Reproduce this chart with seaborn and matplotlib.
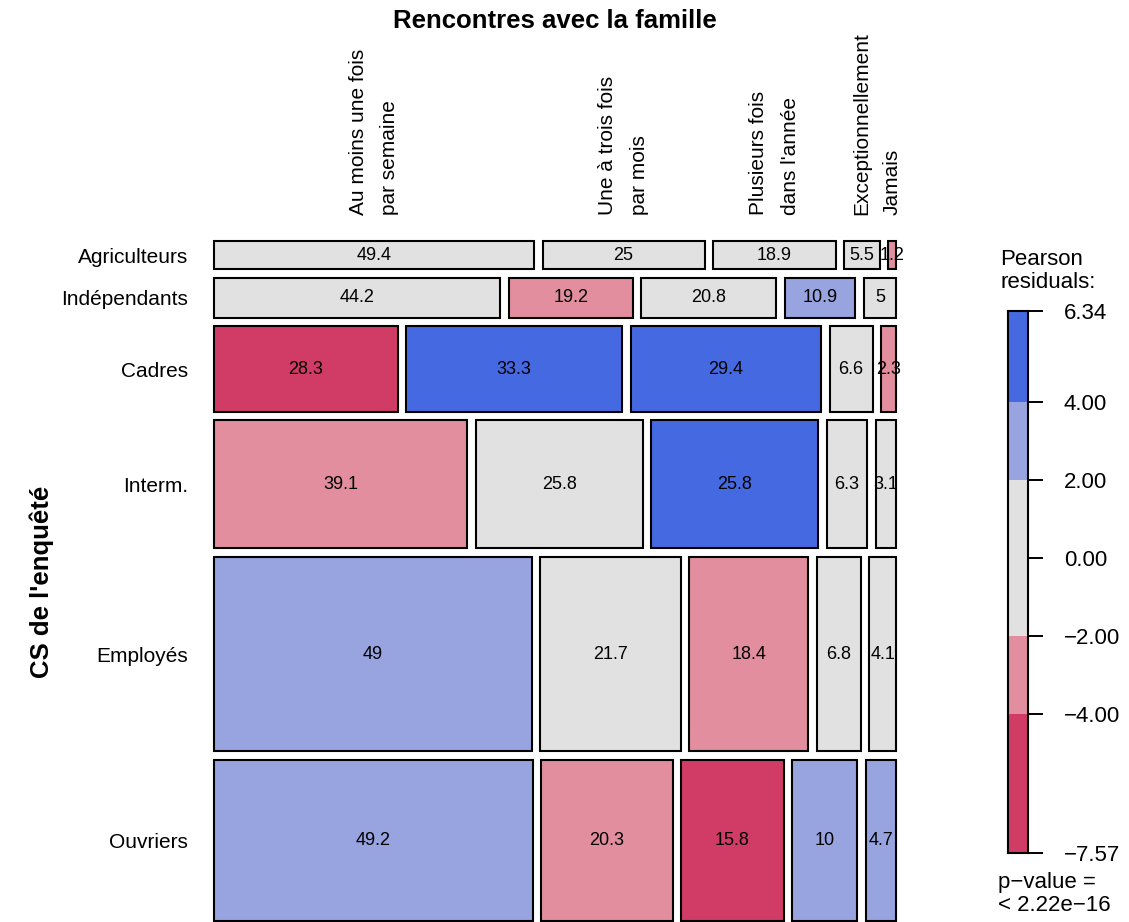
import numpy as np
import matplotlib
matplotlib.use("Agg")
import matplotlib.pyplot as plt
import seaborn as sns

# Row variable (CS) and column variable (family meetings)
rows = ["Agriculteurs", "Indépendants", "Cadres", "Interm.", "Employés", "Ouvriers"]
cols = ["Au moins une fois\npar semaine", "Une à trois fois\npar mois",
        "Plusieurs fois\ndans l'année", "Exceptionnellement", "Jamais"]

# Share of respondents in each CS (row heights, %)
row_share = [4.4, 6.3, 13.4, 20.1, 30.5, 25.3]

# Row percentages shown in each tile
pct = [
    [49.4, 25.0, 18.9, 5.5, 1.2],
    [44.2, 19.2, 20.8, 10.9, 5.0],
    [28.3, 33.3, 29.4, 6.6, 2.3],
    [39.1, 25.8, 25.8, 6.3, 3.1],
    [49.0, 21.7, 18.4, 6.8, 4.1],
    [49.2, 20.3, 15.8, 10.0, 4.7],
]

# Pearson residuals of the independence model
residuals = [
    [1.5, 0.5, -0.8, -1.4, -2.4],
    [0.1, -2.1, 0.0, 2.6, 1.4],
    [-7.57, 6.34, 5.9, -1.2, -2.4],
    [-2.9, 1.7, 4.2, -1.9, -1.3],
    [3.6, -1.9, -2.6, -1.5, 0.9],
    [3.4, -3.1, -4.9, 3.7, 2.2],
]
thresholds = [2, 4]
p_value_text = "p\u2212value =\n< 2.22e\u221216"

# HCL-based diverging shading (blue = positive, red = negative)
neg_strong, neg_weak = "#D13C66", "#E28E9E"
neutral = "#E1E1E1"
pos_weak, pos_strong = "#98A4E0", "#4569E1"
shades = sns.color_palette([neg_strong, neg_weak, neutral, pos_weak, pos_strong])


def shade(r):
    if r <= -thresholds[1]:
        return shades[0]
    if r <= -thresholds[0]:
        return shades[1]
    if r < thresholds[0]:
        return shades[2]
    if r < thresholds[1]:
        return shades[3]
    return shades[4]


sns.set_theme(style="white")
plt.rcParams["font.family"] = ["Liberation Sans", "DejaVu Sans"]
plt.rcParams["text.color"] = "black"

W, H = 1129, 922
fig = plt.figure(figsize=(W / 100, H / 100), dpi=100)


def box(l, t, r, b):
    return [l / W, 1 - b / H, (r - l) / W, (b - t) / H]


# ---- mosaic -------------------------------------------------------------
ax = fig.add_axes(box(214, 241, 896, 921))
ax.set_xlim(0, 1)
ax.set_ylim(1, 0)

gx = 8.5 / 682
gy = 8.6 / 680
rs = np.array(row_share, dtype=float)
heights = rs / rs.sum() * (1 - gy * (len(rows) - 1))
tops = np.concatenate([[0], np.cumsum(heights + gy)[:-1]])

first_row_centers = None
for i in range(len(rows)):
    p = np.array(pct[i], dtype=float)
    widths = p / p.sum() * (1 - gx * (len(cols) - 1))
    lefts = np.concatenate([[0], np.cumsum(widths + gx)[:-1]])
    colors = [shade(r) for r in residuals[i]]
    ax.bar(lefts, heights[i], width=widths, bottom=tops[i], align="edge",
           color=colors, edgecolor="black", linewidth=1.5, clip_on=False)
    for j, v in enumerate(pct[i]):
        ax.text(lefts[j] + widths[j] / 2, tops[i] + heights[i] / 2, f"{v:g}",
                ha="center", va="center", fontsize=13, color="black")
    if i == 0:
        first_row_centers = lefts + widths / 2

ax.set_yticks(tops + heights / 2)
ax.set_yticklabels(rows)
ax.tick_params(axis="y", length=0, pad=18.5, labelsize=15, labelcolor="black")

ax.xaxis.tick_top()
ax.set_xticks(first_row_centers)
ax.set_xticklabels(cols)
ax.tick_params(axis="x", length=0, pad=18.5, labelsize=15, labelrotation=90,
               labelcolor="black")
for lbl in ax.get_xticklabels():
    lbl.set_multialignment("left")
    lbl.set_linespacing(1.85)

sns.despine(ax=ax, left=True, bottom=True, top=True, right=True)

fig.text(555 / W, 1 - 21 / H, "Rencontres avec la famille", ha="center",
         va="center", fontsize=18.5, fontweight="bold", color="black")
fig.text(42 / W, 1 - 582 / H, "CS de l'enquêté", rotation=90, ha="center",
         va="center", fontsize=18.5, fontweight="bold", color="black")

# ---- shading legend -------------------------------------------------------
flat = np.array(residuals).ravel()
rmin, rmax = flat.min(), flat.max()
lax = fig.add_axes(box(1008, 311, 1028, 853))
lax.set_xlim(0, 1)
lax.set_ylim(rmin, rmax)
edges = np.array([rmin, -thresholds[1], -thresholds[0], thresholds[0],
                  thresholds[1], rmax])
lax.bar(0, np.diff(edges), bottom=edges[:-1], width=1, align="edge",
        color=list(shades), linewidth=0)
for s in lax.spines.values():
    s.set_visible(True)
    s.set_color("black")
    s.set_linewidth(1.5)
ticks = [rmin, -4, -2, 0, 2, 4, rmax]
lax.set_xticks([])
lax.yaxis.tick_right()
lax.set_yticks(ticks)
lax.set_yticklabels([f"{t:.2f}".replace("-", "\u2212") for t in ticks])
lax.tick_params(axis="y", right=True, length=10.8, width=1.4, pad=15,
                labelsize=16, color="black", labelcolor="black", direction="out")

fig.text(1000 / W, 1 - 249 / H, "Pearson\nresiduals:", ha="left", va="top",
         fontsize=16, linespacing=1.15, color="black")
fig.text(998 / W, 1 - 872 / H, p_value_text, ha="left", va="top",
         fontsize=16, linespacing=1.1, color="black")

fig.savefig("out.png", dpi=100)
